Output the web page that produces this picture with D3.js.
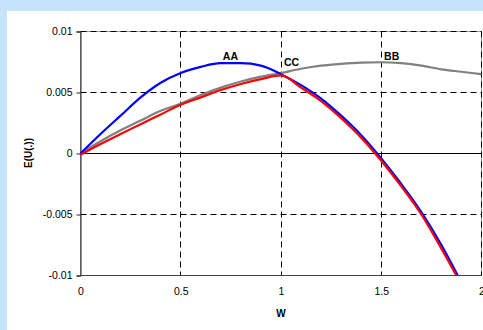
<!DOCTYPE html>
<html>
<head>
<meta charset="utf-8">
<script src="https://cdn.jsdelivr.net/npm/d3@7"></script>
<style>
  body { margin: 0; background: #c6e3fc; }
  svg { display: block; font-family: "Liberation Sans", Arial, sans-serif; }
</style>
</head>
<body>
<div id="chart"></div>
<script>
// wealth grid shared by all curves
var wGrid = [0, 0.1, 0.2, 0.3, 0.4, 0.5, 0.6, 0.7, 0.8, 0.9, 1.0,
             1.1, 1.2, 1.3, 1.4, 1.5, 1.6, 1.7, 1.8, 1.9, 2.0]

// AA (blue)
var seriesAA = [0, 0.0016, 0.0031, 0.0046, 0.0058, 0.0066, 0.0071, 0.0074, 0.0074, 0.0072, 0.0065,
                0.0056, 0.0045, 0.0031, 0.0015, -0.0004, -0.0025, -0.0048, -0.0075, -0.0106, -0.0140]
// BB (grey)
var seriesBB = [0, 0.0010, 0.0019, 0.0027, 0.0035, 0.0041, 0.0048, 0.0054, 0.0059, 0.0063, 0.0066,
                0.00695, 0.0072, 0.00735, 0.00745, 0.00748, 0.0074, 0.0072, 0.0069, 0.0067, 0.0065]
// CC (red)
var seriesCC = [-0.0001, 0.00078, 0.0016, 0.0024, 0.0032, 0.0040, 0.0046, 0.0052, 0.0057, 0.0061, 0.0064,
                0.0054, 0.0043, 0.0029, 0.0013, -0.0006, -0.0027, -0.0050, -0.0078, -0.0108, -0.0142]

var xTicks = [0, 0.5, 1, 1.5, 2]
var yTicks = [-0.01, -0.005, 0, 0.005, 0.01]

// curve labels, in data units
var labels = [
  { text: 'AA', w: 0.71, v: 0.00767 },
  { text: 'CC', w: 1.015, v: 0.00721 },
  { text: 'BB', w: 1.514, v: 0.00767 }
]

var w = 483
var h = 330

var svg = d3.select('#chart').append('svg')
  .attr('width', w)
  .attr('height', h)

// white chart area
svg.append('rect')
  .attr('x', 7).attr('y', 11)
  .attr('width', w - 7).attr('height', h - 11)
  .attr('fill', '#fff')

var x = d3.scaleLinear().domain([0, 2]).range([80.5, 481.5])
var y = d3.scaleLinear().domain([-0.01, 0.01]).range([275.5, 31.5])

function snap (v) { return Math.round(v - 0.5) + 0.5 }

// plot border
svg.append('rect')
  .attr('x', x(0)).attr('y', y(0.01))
  .attr('width', x(2) - x(0)).attr('height', y(-0.01) - y(0.01))
  .attr('fill', 'none')
  .attr('stroke', '#999')

// gridlines
xTicks.slice(1).forEach(function (t) {
  svg.append('line')
    .attr('x1', snap(x(t))).attr('x2', snap(x(t)))
    .attr('y1', y(0.01)).attr('y2', y(-0.01))
    .attr('stroke', '#000')
    .attr('stroke-dasharray', '6,4')
})
yTicks.forEach(function (t) {
  if (t === 0 || t === -0.01) return
  svg.append('line')
    .attr('x1', x(0)).attr('x2', x(2))
    .attr('y1', y(t)).attr('y2', y(t))
    .attr('stroke', '#000')
    .attr('stroke-dasharray', '6,4')
})

// zero line and bottom axis
svg.append('line')
  .attr('x1', x(0)).attr('x2', x(2))
  .attr('y1', y(0)).attr('y2', y(0))
  .attr('stroke', '#000')
svg.append('line')
  .attr('x1', x(0)).attr('x2', x(2))
  .attr('y1', y(-0.01)).attr('y2', y(-0.01))
  .attr('stroke', '#444')

// plain hyphen for negatives, like the original
function fmt (d) { return String(+d.toFixed(3)) }

// y axis
var yAxis = d3.axisLeft(y)
  .tickValues(yTicks)
  .tickSize(4)
  .tickFormat(fmt)
var gy = svg.append('g')
  .attr('transform', 'translate(' + x(0) + ',0)')
  .call(yAxis)
gy.select('.domain').attr('stroke', '#222')
gy.selectAll('.tick line').attr('stroke', '#222')
gy.selectAll('.tick text')
  .attr('x', -8)
  .attr('fill', '#000')
  .style('font-size', '10.5px')
  .style('font-family', '"Liberation Sans", Arial, sans-serif')

// x axis labels
var xAxis = d3.axisBottom(x)
  .tickValues(xTicks)
  .tickSize(0)
  .tickFormat(fmt)
var gx = svg.append('g')
  .attr('transform', 'translate(0,' + y(-0.01) + ')')
  .call(xAxis)
gx.select('.domain').remove()
gx.selectAll('.tick text')
  .attr('y', 12)
  .attr('fill', '#000')
  .style('font-size', '10.5px')
  .style('font-family', '"Liberation Sans", Arial, sans-serif')

// axis titles
svg.append('text')
  .attr('x', x(1)).attr('y', 316.5)
  .attr('text-anchor', 'middle')
  .attr('font-weight', 'bold')
  .style('font-size', '10px')
  .text('W')

svg.append('text')
  .attr('transform', 'translate(32,153) rotate(-90)')
  .attr('text-anchor', 'middle')
  .attr('font-weight', 'bold')
  .style('font-size', '10px')
  .text('E(U(.))')

// clip the curves to the plot area
svg.append('clipPath').attr('id', 'plotclip')
  .append('rect')
  .attr('x', x(0) - 2).attr('y', y(0.01))
  .attr('width', x(2) - x(0) + 2).attr('height', y(-0.01) - y(0.01))

var line = d3.line()
  .x(function (d) { return x(d[0]) })
  .y(function (d) { return y(d[1]) })
  .curve(d3.curveMonotoneX)

function draw (values, color, width) {
  svg.append('path')
    .datum(wGrid.map(function (g, i) { return [g, values[i]] }))
    .attr('d', line)
    .attr('fill', 'none')
    .attr('stroke', color)
    .attr('stroke-width', width)
    .attr('clip-path', 'url(#plotclip)')
}

draw(seriesBB, '#808080', 2.2)
draw(seriesAA, '#0000ff', 2.2)
draw(seriesCC, '#ff0000', 2.2)

labels.forEach(function (l) {
  svg.append('text')
    .attr('x', x(l.w)).attr('y', y(l.v))
    .attr('font-weight', 'bold')
    .style('font-size', '10.5px')
    .text(l.text)
})
</script>
</body>
</html>
